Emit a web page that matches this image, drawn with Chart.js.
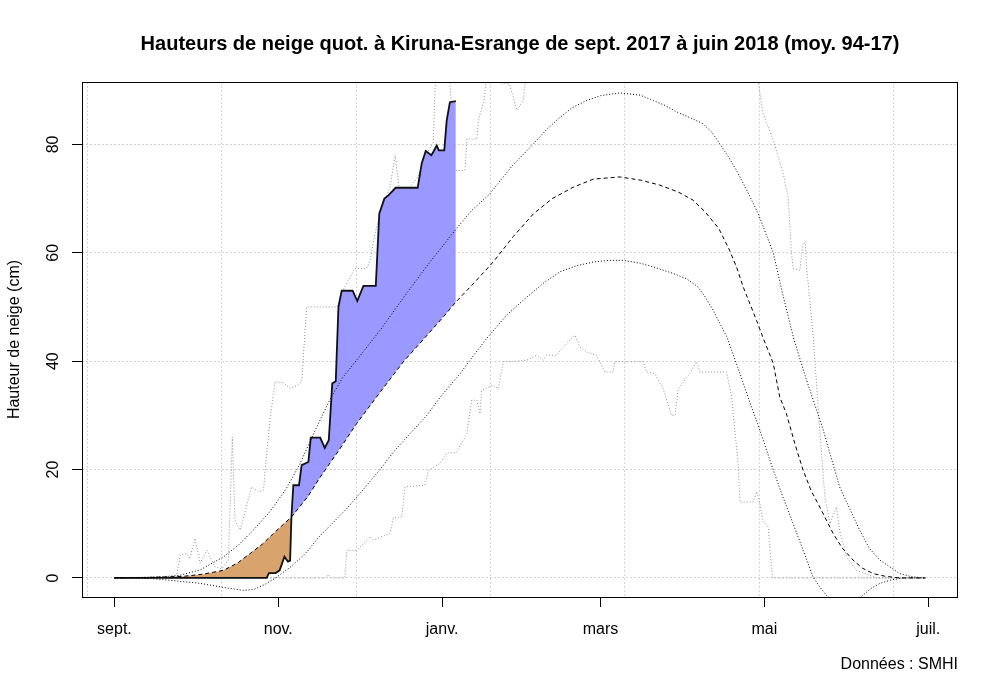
<!DOCTYPE html>
<html>
<head>
<meta charset="utf-8">
<script src="https://cdn.jsdelivr.net/npm/chart.js@4/dist/chart.umd.min.js"></script>
<style>
  html, body { margin: 0; padding: 0; background: #fff; }
</style>
</head>
<body>
<canvas id="graphique" width="1000" height="699"></canvas>
<script>
"use strict";

// textes
const titre = "Hauteurs de neige quot. à Kiruna-Esrange de sept. 2017 à juin 2018 (moy. 94-17)";
const titreAxeY = "Hauteur de neige (cm)";
const source = "Données : SMHI";

// axes (jours depuis le 1er sept. 2017)
const joursMois = [0, 61, 122, 181, 242, 303];
const nomsMois = ["sept.", "nov.", "janv.", "mars", "mai", "juil."];
const joursGrille = [-10, 40, 90, 140, 190, 240, 290];
const ticksHauteur = [0, 20, 40, 60, 80];

// saison 2017-18
const joursSaison = [0, 56.7, 57.5, 60, 61.5, 63.3, 64.6, 65.4, 65.9, 66.6, 68.7, 69.7, 72.2, 73.1, 76.6, 78.3, 79.8, 81.1, 82.4, 83.4, 84.6, 88.7, 90.4, 92.7, 97.3, 98.6, 100.5, 102, 104.7, 112.9, 114.4, 115.9, 118, 118.7, 120, 120.8, 122.8, 123.7, 124.9, 127.1];
const hauteurSaison = [0, 0, 0.9, 0.9, 1.4, 3.9, 3.0, 3.2, 11.3, 17.1, 17.1, 20.8, 21.4, 25.9, 25.9, 24.0, 25.4, 35.9, 36.3, 50, 53, 53, 51.1, 53.9, 53.9, 67.2, 70, 70.6, 72, 72, 76.5, 78.8, 78, 78.6, 79.8, 78.9, 78.9, 84.4, 87.8, 88];

// moyenne 94-17
const joursMoy = [0, 10, 20, 25.7, 33, 40.6, 46, 50.5, 55, 59.2, 66, 72, 76.6, 83.5, 90.2, 98.5, 107.6, 115, 122.5, 127.1, 134, 141, 148.5, 156, 163, 170.8, 178.3, 188.2, 196, 203, 210, 215.5, 220, 225, 229, 231.6, 234.1, 239.1, 241.6, 245.3, 247.7, 250.2, 253.5, 256.4, 259.5, 262.6, 267.6, 271, 275, 278.5, 282.5, 287, 292.4, 302];
const hauteurMoy = [0, 0.05, 0.2, 0.3, 0.7, 1.4, 2.8, 4.5, 6.2, 8.2, 11.3, 15, 18.6, 23.5, 28.5, 34, 39.9, 44, 48.2, 50.9, 54.5, 58.3, 63, 67.2, 70, 72.1, 73.6, 74, 73.4, 72.5, 71.2, 69.7, 67.5, 64.5, 60.5, 57.4, 53.7, 47.5, 44.2, 39.6, 33.4, 30.3, 24.5, 19.9, 16, 13.1, 8.2, 5.5, 3.3, 1.8, 0.8, 0.3, 0, 0];

// moyenne + écart-type
const joursHaut = [0, 10, 20, 24.5, 32, 40.6, 46, 51.7, 58, 64, 69, 74.5, 80.3, 85, 90.2, 98.9, 108, 117, 127.4, 133, 139.8, 148, 156, 161, 165.9, 170.5, 175.8, 181, 188.2, 195.7, 200.6, 205, 209.3, 214, 219.2, 222.5, 225.4, 228.5, 231.6, 235.5, 239.7, 245.3, 249, 253, 257.7, 263.9, 270, 277.5, 281, 285, 292.4, 297, 302];
const hauteurHaut = [0, 0.1, 0.3, 0.5, 1.5, 3.9, 6, 8.8, 12.3, 16.5, 21, 27, 33, 37, 40.2, 45.7, 52, 58, 64.5, 67.8, 70.9, 76, 80.1, 82.8, 85, 86.8, 88.1, 89, 89.5, 89.1, 88.1, 87.2, 86, 85, 83.8, 82.2, 80.1, 77.8, 75.2, 71.5, 67.2, 60, 52, 44, 36.5, 27.3, 16.8, 8.8, 5.5, 3.3, 0.8, 0.2, 0];

// moyenne - écart-type
const joursBas = [0, 5, 13.3, 20, 31.9, 40, 48, 52, 56, 60, 65, 69, 72, 76, 80, 86.5, 91.4, 98.9, 103.8, 110, 116.3, 122, 128.7, 133, 138.6, 146, 153.5, 160, 165.9, 172, 178.3, 184, 189.4, 195.6, 200.6, 208, 213, 217.3, 220, 222.9, 228, 232.9, 236.5, 240.3, 245.3, 249, 252.7, 256.5, 260.1, 262.5, 265.1, 268, 272, 276, 278.2, 281.5, 285, 289, 293.6, 302];
const hauteurBas = [0, 0, -0.1, -0.4, -1, -1.7, -2.3, -2.1, -1.2, 0, 1.8, 3.5, 5, 7.5, 9.5, 12.8, 15.6, 20, 23.2, 26.6, 30, 33.8, 37.7, 40.6, 44.2, 48.5, 51.8, 54.5, 56.5, 57.6, 58.3, 58.6, 58.6, 58.1, 57.4, 56.2, 55.2, 53.7, 51.8, 49.4, 44.5, 37.7, 32.5, 27.3, 19.9, 14.8, 10, 5, 0.2, -1.6, -3.2, -4.3, -4.6, -4.1, -3.4, -2, -1, -0.4, 0, 0];

// maximum 94-17
const joursMax = [0, 23, 24.5, 26.9, 28, 30, 31.9, 34.4, 36, 37.5, 40, 42.4, 43.9, 44.9, 46.8, 48.5, 51.1, 53.6, 55.5, 56.5, 57.9, 59.8, 63, 65.4, 68, 69.7, 71.6, 82.8, 85, 89.5, 93.9, 95.2, 97, 98.9, 102.6, 104.5, 106, 110, 113, 116, 118.7, 119.4, 121, 124.5, 126.5, 130.5, 131.2, 134.9, 135.5, 137.5, 139.5, 142.5, 143.7, 147, 149.8, 152.2, 154, 238, 239.7, 241.5, 245.3, 249, 250.8, 252.1, 252.7, 255.2, 256.4, 257.2, 257.7, 260.1, 262.6, 264.5, 266.4, 268.8, 270, 272.6, 276.3, 283.7, 302];
const hauteurMax = [0, 0, 4.2, 4.5, 3.5, 7.3, 2.7, 5.1, 3.5, 2, 1.7, 3.3, 26, 10.6, 8.8, 12, 16.8, 15.9, 16.2, 22, 29.1, 36.2, 36, 35, 35.5, 36.2, 50, 50, 53, 57.1, 57.1, 58.6, 63.5, 67.2, 72.1, 78, 72.1, 72.1, 74, 78, 80.4, 90.6, 96, 96, 75.2, 75.2, 81, 81, 84.4, 88, 96, 96, 91.2, 91.2, 86.3, 88.1, 96, 96, 91.5, 85.7, 80.8, 74.6, 70.3, 59.9, 57.1, 56.8, 61.7, 62, 57.4, 45, 27.3, 15, 10, 13.1, 8.8, 3.9, 1.4, 0, 0];

// minimum 94-17
const joursMin = [0, 78.5, 79.6, 80.5, 85.8, 86.5, 90.2, 92.7, 95.2, 96.4, 102.6, 103.8, 107, 108.2, 115.6, 116.9, 121.2, 123.7, 127.4, 131.2, 133, 134.9, 136.1, 136.7, 141, 142.9, 144.8, 150, 153.5, 157.2, 159.7, 160.9, 164.6, 167.1, 171.5, 173.3, 175.8, 179.5, 182.6, 185.7, 186.3, 196.9, 198.1, 201.2, 204.3, 207.4, 208.7, 209.9, 214.2, 216.7, 218, 227.9, 229.8, 232.2, 232.9, 237.8, 239.1, 240.3, 241.5, 243.4, 245, 302];
const hauteurMin = [0, 0, 0.6, 0, 0, 5.1, 5.1, 6.3, 7.6, 7, 8.2, 11, 11.3, 16.8, 17.1, 19.9, 21.1, 23, 23.2, 26.6, 32.8, 32.8, 30.3, 34.6, 35.6, 34.9, 39.9, 40, 40.2, 41.1, 40.2, 41.1, 41.1, 42.6, 44.8, 42.6, 41.7, 41.1, 38, 38, 39.9, 39.9, 38, 37.7, 34.9, 30, 30, 34.9, 37.7, 39.9, 38, 38, 33.4, 21.1, 14, 14, 15.9, 13.7, 10.6, 9.4, 0, 0];

function points(xs, ys) {
    return xs.map((x, i) => ({ x: x, y: ys[i] }));
}

Chart.defaults.font.family = "'Liberation Sans', Arial, sans-serif";
Chart.defaults.font.size = 16;
Chart.defaults.color = "#000";

// cadre + titre + source
const decor = {
    id: "decor",
    afterDraw(chart) {
        const ctx = chart.ctx;
        const a = chart.chartArea;
        ctx.save();
        ctx.strokeStyle = "#000";
        ctx.lineWidth = 1;
        ctx.strokeRect(a.left + 0.5, a.top + 0.5, a.right - a.left - 1, a.bottom - a.top);
        ctx.fillStyle = "#000";
        ctx.textBaseline = "middle";
        ctx.font = "bold 20px 'Liberation Sans', Arial, sans-serif";
        ctx.textAlign = "center";
        ctx.fillText(titre, (a.left + a.right) / 2, 44);
        ctx.font = "16px 'Liberation Sans', Arial, sans-serif";
        ctx.textAlign = "right";
        ctx.fillText(source, a.right, 665);
        ctx.restore();
    }
};

const pointille = [1, 2];
const gris = "#8f8f8f";

new Chart(document.getElementById("graphique"), {
    type: "line",
    data: {
        datasets: [
            {
                label: "2017-18",
                data: points(joursSaison, hauteurSaison),
                borderColor: "#111",
                borderWidth: 1.8,
                fill: { target: 1, above: "#9999ff", below: "#d8a36d" },
                order: 2
            },
            {
                label: "moyenne",
                data: points(joursMoy, hauteurMoy),
                borderColor: "#000",
                borderWidth: 1,
                borderDash: [4, 3],
                order: 1
            },
            {
                label: "moyenne + écart-type",
                data: points(joursHaut, hauteurHaut),
                borderColor: "#000",
                borderWidth: 1,
                borderDash: pointille,
                order: 1
            },
            {
                label: "moyenne - écart-type",
                data: points(joursBas, hauteurBas),
                borderColor: "#000",
                borderWidth: 1,
                borderDash: pointille,
                order: 1
            },
            {
                label: "max",
                data: points(joursMax, hauteurMax),
                borderColor: gris,
                borderWidth: 1,
                borderDash: pointille,
                order: 5
            },
            {
                label: "min",
                data: points(joursMin, hauteurMin),
                borderColor: gris,
                borderWidth: 1,
                borderDash: pointille,
                order: 5
            }
        ]
    },
    options: {
        responsive: false,
        animation: false,
        devicePixelRatio: 1,
        layout: { padding: { left: 0, right: 42, top: 82, bottom: 0 } },
        elements: { point: { radius: 0 }, line: { tension: 0 } },
        plugins: { legend: { display: false }, tooltip: { enabled: false } },
        scales: {
            x: {
                type: "linear",
                position: "bottom",
                min: -12.08,
                max: 314.08,
                afterBuildTicks: (axe) => { axe.ticks = joursMois.map(v => ({ value: v })); },
                ticks: {
                    autoSkip: false,
                    maxRotation: 0,
                    padding: 13,
                    callback: (v, i) => nomsMois[i]
                },
                grid: { drawOnChartArea: false, tickLength: 10, tickColor: "#000", tickBorderDash: [] },
                border: { display: false },
                afterFit: (axe) => { axe.height = 102; }
            },
            xg: {
                type: "linear",
                position: "bottom",
                min: -12.08,
                max: 314.08,
                afterBuildTicks: (axe) => { axe.ticks = joursGrille.map(v => ({ value: v })); },
                ticks: { display: false },
                grid: { color: "#d3d3d3", drawTicks: false },
                border: { display: false, dash: [2, 2] },
                afterFit: (axe) => { axe.height = 0; }
            },
            y: {
                min: -3.52,
                max: 91.52,
                afterBuildTicks: (axe) => { axe.ticks = ticksHauteur.map(v => ({ value: v })); },
                ticks: { minRotation: 90, maxRotation: 90, crossAlign: "center", padding: 10 },
                grid: { color: "#d3d3d3", tickColor: "#000", tickLength: 10, tickBorderDash: [] },
                border: { display: false, dash: [2, 2] },
                title: { display: true, text: titreAxeY, padding: { top: 5, bottom: 0 } },
                afterFit: (axe) => { axe.width = 82; }
            }
        }
    },
    plugins: [decor]
});
</script>
</body>
</html>
